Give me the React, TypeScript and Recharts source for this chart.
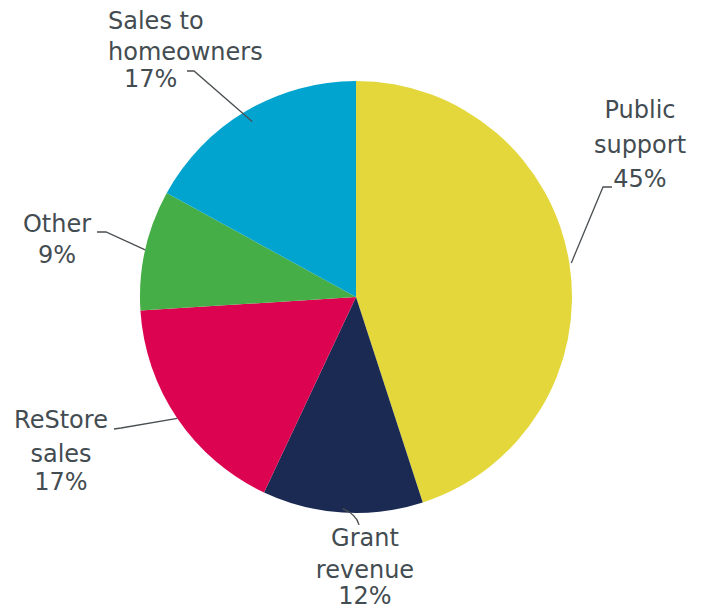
import React from "react";
import { Cell, Pie, PieChart } from "recharts";

// revenue shares, clockwise from 12 o'clock
const SOURCES = ["Public support", "Grant revenue", "ReStore sales", "Other", "Sales to homeowners"];
const SHARES = [45, 12, 17, 9, 17];
// label text split into lines (the percentage line is added after these)
const LABEL_LINES = [["Public", "support"], ["Grant", "revenue"], ["ReStore", "sales"], ["Other"], ["Sales to", "homeowners"]];
const COLORS = ["#E3D73B", "#1B2A52", "#DC0451", "#46AE46", "#00A4CF"];

const TEXT = "#434c51";
const FONT = "'DejaVu Sans', sans-serif";

// label placement: text lines (x, baseline y, anchor) and leader elbow points
type LabelLayout = {
  lines: { x: number; y: number; anchor: "start" | "middle" | "end" }[];
  leader: [number, number][]; // from text side toward slice, last point joins the slice edge
  inset?: number;
  curve?: boolean;
};

const LAYOUT: LabelLayout[] = [
  {
    lines: [
      { x: 640, y: 118, anchor: "middle" },
      { x: 640, y: 153, anchor: "middle" },
      { x: 640, y: 187, anchor: "middle" },
    ],
    leader: [[612, 187], [603, 187]],
    inset: -2,
  },
  {
    lines: [
      { x: 365, y: 546, anchor: "middle" },
      { x: 365, y: 578, anchor: "middle" },
      { x: 365, y: 604, anchor: "middle" },
    ],
    leader: [[359, 525]],
    inset: 4,
    curve: true,
  },
  {
    lines: [
      { x: 61, y: 428, anchor: "middle" },
      { x: 61, y: 462, anchor: "middle" },
      { x: 61, y: 490, anchor: "middle" },
    ],
    leader: [[114, 429], [121, 428]],
    inset: 0,
  },
  {
    lines: [
      { x: 57, y: 232, anchor: "middle" },
      { x: 57, y: 263, anchor: "middle" },
    ],
    leader: [[97, 232], [106, 232]],
    inset: 0,
  },
  {
    lines: [
      { x: 108, y: 29, anchor: "start" },
      { x: 108, y: 60, anchor: "start" },
      { x: 124, y: 87, anchor: "start" },
    ],
    leader: [[187, 71], [194, 71]],
    inset: 12,
  },
];

const data = SOURCES.map((name, i) => ({ name, value: SHARES[i] }));

const RADIAN = Math.PI / 180;

function renderLabel(props: any) {
  const { cx, cy, midAngle, outerRadius, index, value } = props;
  const layout = LAYOUT[index];
  const r = outerRadius - (layout.inset ?? 0);
  const ex = cx + r * Math.cos(-midAngle * RADIAN);
  const ey = cy + r * Math.sin(-midAngle * RADIAN);
  const pts = [...layout.leader, [ex, ey]];
  let d = `M${pts[0][0]},${pts[0][1]}`;
  if (layout.curve) {
    const [sx, sy] = pts[0];
    d = `M${sx},${sy} Q${sx - 2},${(sy + ey) / 2 - 2} ${ex},${ey}`;
  } else {
    for (let k = 1; k < pts.length; k++) d += ` L${pts[k][0]},${pts[k][1]}`;
  }
  const lines = [...LABEL_LINES[index], `${value}%`];
  return (
    <g key={`lbl-${index}`}>
      <path d={d} fill="none" stroke="#4a4f52" strokeWidth={1.3} />
      {lines.map((t, k) => (
        <text
          key={k}
          x={layout.lines[k].x}
          y={layout.lines[k].y}
          textAnchor={layout.lines[k].anchor}
          fill={TEXT}
          fontSize={24}
          fontFamily={FONT}
        >
          {t}
        </text>
      ))}
    </g>
  );
}

export default function App() {
  return (
    <div style={{ position: "absolute", left: 0, top: 0, width: 705, height: 610, background: "#fff" }}>
      <PieChart width={705} height={610} margin={{ top: 0, right: 0, bottom: 0, left: 0 }}>
        <Pie
          data={data}
          dataKey="value"
          nameKey="name"
          cx={356}
          cy={297}
          outerRadius={216}
          startAngle={90}
          endAngle={-270}
          stroke="none"
          label={renderLabel}
          labelLine={false}
          isAnimationActive={false}
        >
          {data.map((d, i) => (
            <Cell key={d.name} fill={COLORS[i]} />
          ))}
        </Pie>
      </PieChart>
    </div>
  );
}
